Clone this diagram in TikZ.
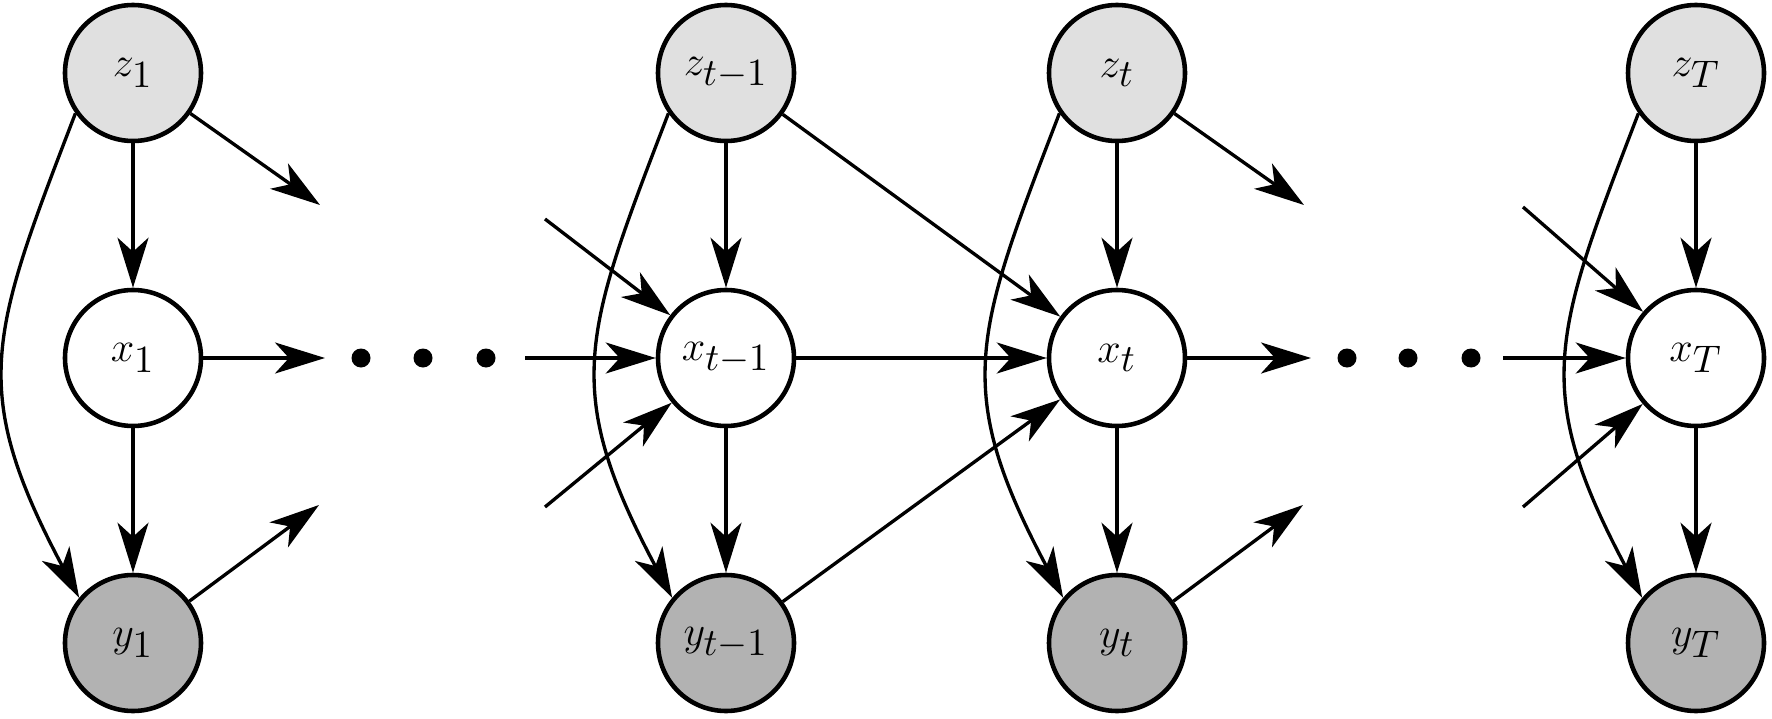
\documentclass[tikz,border=0pt]{standalone}
\usepackage{amsfonts}
\usepackage{amssymb}
\usepackage{tikz}
\usetikzlibrary{arrows.meta}
\DeclareMathSizes{12}{12}{10.95}{8}

\begin{document}
\begin{tikzpicture}[
  var/.style={circle,draw,line width=1.3pt,minimum size=1.36cm,inner sep=0pt,font=\fontsize{12}{14}\selectfont},
  latent/.style={var,fill=black!12},
  hidden/.style={var,fill=white},
  obs/.style={var,fill=black!30},
  dot/.style={circle,fill,inner sep=0pt,minimum size=0.19cm},
  edge/.style={->,line width=0.95pt},
  >={Stealth[length=5mm,width=3.1mm,inset=1.4mm]}]
\useasboundingbox (0,0) rectangle (17.72,7.18);
\node[latent](z1) at (1.33,6.45) {$z_1$};
\node[hidden](x1) at (1.33,3.60) {$x_1$};
\node[obs](y1) at (1.33,0.75) {$y_1$};
\node[latent](ztm) at (7.26,6.45) {$z_{t-1}$};
\node[hidden](xtm) at (7.26,3.60) {$x_{t-1}$};
\node[obs](ytm) at (7.26,0.75) {$y_{t-1}$};
\node[latent](zt) at (11.17,6.45) {$z_t$};
\node[hidden](xt) at (11.17,3.60) {$x_t$};
\node[obs](yt) at (11.17,0.75) {$y_t$};
\node[latent](zT) at (16.96,6.45) {$z_T$};
\node[hidden](xT) at (16.96,3.60) {$x_T$};
\node[obs](yT) at (16.96,0.75) {$y_T$};
\node[dot](da1) at (3.61,3.60) {};
\node[dot](da2) at (4.23,3.60) {};
\node[dot](da3) at (4.86,3.60) {};
\node[dot](db1) at (13.47,3.60) {};
\node[dot](db2) at (14.08,3.60) {};
\node[dot](db3) at (14.71,3.60) {};
\coordinate(z1out) at (3.20,5.13);
\coordinate(x1out) at (3.25,3.60);
\coordinate(y1out) at (3.19,2.13);
\coordinate(ztout) at (13.04,5.13);
\coordinate(xtout) at (13.11,3.60);
\coordinate(ytout) at (13.03,2.13);
\coordinate(xtmin) at (5.25,3.60);
\coordinate(xtmup) at (5.45,4.99);
\coordinate(xtmlo) at (5.45,2.11);
\coordinate(xTin) at (15.03,3.60);
\coordinate(xTup) at (15.23,5.11);
\coordinate(xTlo) at (15.23,2.11);
\draw[edge](z1)--(x1);
\draw[edge](x1)--(y1);
\draw[edge](z1.215) to[out=249,in=118,looseness=1.25] (y1.140);
\draw[edge](z1)--(z1out);
\draw[edge](x1)--(x1out);
\draw[edge](y1)--(y1out);
\draw[edge](xtmin)--(xtm);
\draw[edge](xtmup)--(xtm);
\draw[edge](xtmlo)--(xtm);
\draw[edge](ztm)--(xtm);
\draw[edge](xtm)--(ytm);
\draw[edge](ztm.215) to[out=249,in=118,looseness=1.25] (ytm.140);
\draw[edge](ztm)--(xt);
\draw[edge](xtm)--(xt);
\draw[edge](ytm)--(xt);
\draw[edge](zt)--(xt);
\draw[edge](xt)--(yt);
\draw[edge](zt.215) to[out=249,in=118,looseness=1.25] (yt.140);
\draw[edge](zt)--(ztout);
\draw[edge](xt)--(xtout);
\draw[edge](yt)--(ytout);
\draw[edge](xTin)--(xT);
\draw[edge](xTup)--(xT);
\draw[edge](xTlo)--(xT);
\draw[edge](zT)--(xT);
\draw[edge](xT)--(yT);
\draw[edge](zT.215) to[out=249,in=118,looseness=1.25] (yT.140);
\end{tikzpicture}
\end{document}
